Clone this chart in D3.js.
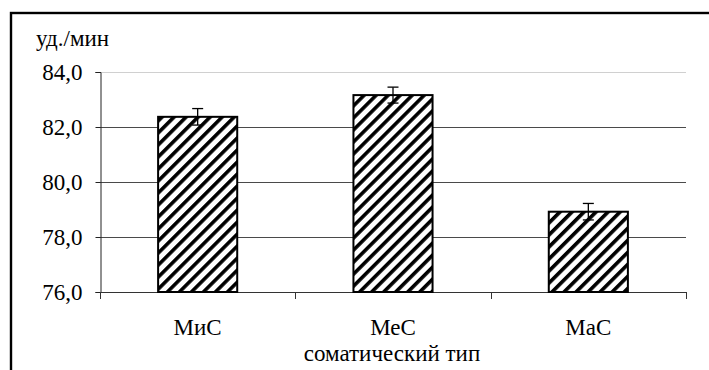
<!DOCTYPE html>
<html>
<head>
<meta charset="utf-8">
<script src="https://cdn.jsdelivr.net/npm/d3@7"></script>
<style>
  body { margin: 0; background: #fff; }
  svg { display: block; }
</style>
</head>
<body>
<div id="chart"></div>
<script>
// данные
var categories = ["МиС", "МеС", "МаС"];
var values = [82.37, 83.16, 78.92];
var errors = [0.30, 0.29, 0.30];
var yTicks = [76, 78, 80, 82, 84];

var width = 709, height = 370;
var margin = {left: 100, right: 23, top: 72, bottom: 78};
var FONT = "'Liberation Serif'";

var svg = d3.select("#chart").append("svg")
  .attr("width", width)
  .attr("height", height)
  .style("font-family", FONT);

// штриховка
svg.append("defs").append("pattern")
  .attr("id", "hatch")
  .attr("patternUnits", "userSpaceOnUse")
  .attr("width", 8.5)
  .attr("height", 8.5)
  .attr("patternTransform", "rotate(45)")
  .call(function(p) {
    p.append("rect").attr("width", 8.5).attr("height", 8.5).attr("fill", "#fff");
    p.append("rect").attr("width", 3.6).attr("height", 8.5).attr("fill", "#000");
  });

// рамка
svg.append("rect")
  .attr("x", 11).attr("y", 13)
  .attr("width", width + 10).attr("height", height)
  .attr("fill", "none")
  .attr("stroke", "#000")
  .attr("stroke-width", 2.4);

var x = d3.scaleBand()
  .domain(categories)
  .range([margin.left, width - margin.right]);

var y = d3.scaleLinear()
  .domain([76, 84])
  .range([height - margin.bottom, margin.top]);

// сетка
svg.append("g")
  .selectAll("line")
  .data(yTicks.filter(function(d) { return d > 76; }))
  .enter().append("line")
  .attr("x1", margin.left)
  .attr("x2", width - margin.right)
  .attr("y1", function(d) { return Math.round(y(d)) + 0.5; })
  .attr("y2", function(d) { return Math.round(y(d)) + 0.5; })
  .attr("stroke", function(d) { return d === 84 ? "#d0d0d0" : "#4a4a4a"; })
  .attr("stroke-width", 1);

// ось Y
var yAxis = svg.append("g")
  .attr("transform", "translate(" + (margin.left + 0.5) + ",0)")
  .call(d3.axisLeft(y).tickValues(yTicks).tickSize(5).tickPadding(13)
    .tickFormat(function(d) { return d3.format(".1f")(d).replace(".", ","); }));
yAxis.attr("font-family", null).attr("font-size", null);
yAxis.select(".domain").attr("stroke", "#222");
yAxis.selectAll(".tick line").attr("stroke", "#222");
yAxis.selectAll("text")
  .style("font-family", FONT)
  .style("font-size", "23px")
  .attr("fill", "#000");

// ось X
var x0 = y(76);
svg.append("line")
  .attr("x1", margin.left).attr("x2", width - margin.right)
  .attr("y1", Math.round(x0) + 0.5).attr("y2", Math.round(x0) + 0.5)
  .attr("stroke", "#333");
svg.append("g")
  .selectAll("line")
  .data(categories.map(function(d) { return x(d); }).concat([width - margin.right]))
  .enter().append("line")
  .attr("x1", function(d) { return Math.round(d) + 0.5; })
  .attr("x2", function(d) { return Math.round(d) + 0.5; })
  .attr("y1", x0)
  .attr("y2", x0 + 7)
  .attr("stroke", "#333");

// столбики
var barW = x.bandwidth() * 0.405;
svg.append("g")
  .selectAll("rect")
  .data(categories)
  .enter().append("rect")
  .attr("x", function(d) { return x(d) + (x.bandwidth() - barW) / 2; })
  .attr("y", function(d, i) { return y(values[i]); })
  .attr("width", barW)
  .attr("height", function(d, i) { return y(76) - y(values[i]); })
  .attr("fill", "url(#hatch)")
  .attr("stroke", "#000")
  .attr("stroke-width", 2);

// ошибки
var eb = svg.append("g").attr("stroke", "#000").attr("stroke-width", 1.3);
categories.forEach(function(d, i) {
  var cx = x(d) + x.bandwidth() / 2;
  var t = y(values[i] + errors[i]), b = y(values[i] - errors[i]);
  eb.append("line").attr("x1", cx).attr("x2", cx).attr("y1", t).attr("y2", b);
  eb.append("line").attr("x1", cx - 5.5).attr("x2", cx + 5.5).attr("y1", t).attr("y2", t);
  eb.append("line").attr("x1", cx - 5.5).attr("x2", cx + 5.5).attr("y1", b).attr("y2", b);
});

// подписи категорий
svg.append("g")
  .selectAll("text")
  .data(categories)
  .enter().append("text")
  .attr("x", function(d) { return x(d) + x.bandwidth() / 2; })
  .attr("y", 335)
  .attr("text-anchor", "middle")
  .style("font-family", FONT)
  .style("font-size", "23px")
  .text(function(d) { return d; });

svg.append("text")
  .attr("x", 392)
  .attr("y", 361)
  .attr("text-anchor", "middle")
  .style("font-family", FONT)
  .style("font-size", "23px")
  .text("соматический тип");

svg.append("text")
  .attr("x", 36)
  .attr("y", 46)
  .style("font-family", FONT)
  .style("font-size", "23px")
  .text("уд./мин");
</script>
</body>
</html>
